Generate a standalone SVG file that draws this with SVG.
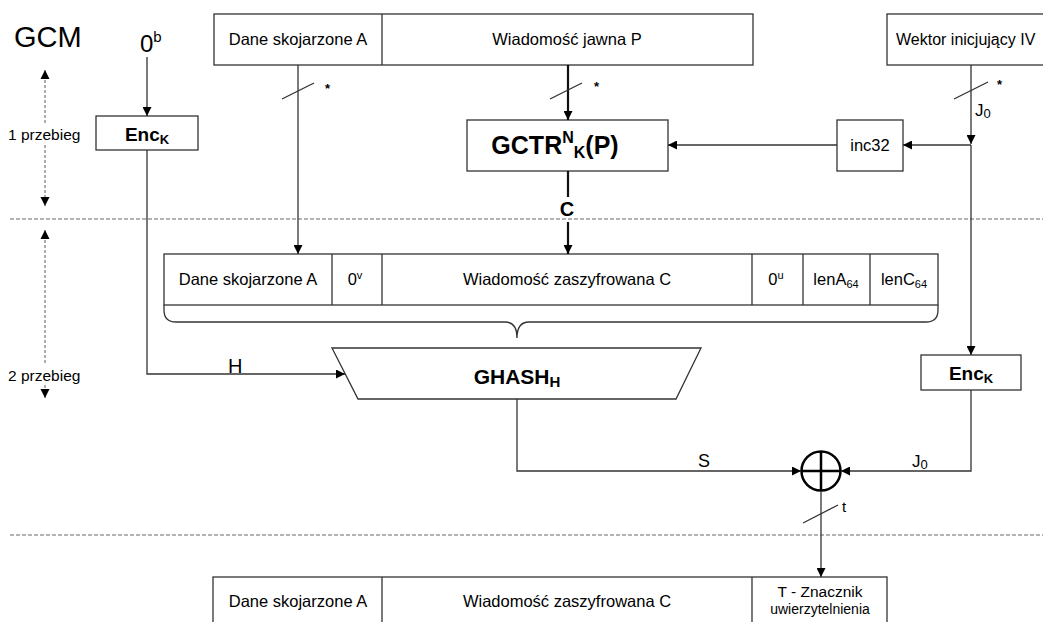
<svg xmlns="http://www.w3.org/2000/svg" width="1043" height="622" viewBox="0 0 1043 622">
<defs>
<marker id="ah" viewBox="0 0 10 10" refX="10" refY="5" markerWidth="9" markerHeight="9" markerUnits="userSpaceOnUse" orient="auto">
<path d="M0,0 L10,5 L0,10 z" fill="#000"/>
</marker>
<marker id="ahs" viewBox="0 0 10 10" refX="10" refY="5" markerWidth="9" markerHeight="11" markerUnits="userSpaceOnUse" orient="auto-start-reverse">
<path d="M0,0 L10,5 L0,10 z" fill="#000"/>
</marker>
</defs>
<style>
.box{fill:#fff;stroke:#333;stroke-width:1.3}
.t{font-family:"Liberation Sans",Arial,sans-serif;fill:#000}
.n{font-size:16.5px}
.b{font-weight:bold}
.ln{fill:none;stroke:#333;stroke-width:1.3}
.thick{fill:none;stroke:#111;stroke-width:2.2}
.dash{fill:none;stroke:#666;stroke-width:1;stroke-dasharray:4 2}
.dot{fill:none;stroke:#777;stroke-width:1.2;stroke-dasharray:3 2}
</style>
<rect width="1043" height="622" fill="#fff"/>

<g id="title">
<text class="t" x="14" y="47" font-size="29">GCM</text>
<text class="t" x="140" y="52" font-size="24">0<tspan font-size="15" dy="-10">b</tspan></text>
</g>

<g id="phases">
<line class="dash" x1="10" y1="219" x2="1043" y2="219"/>
<line class="dash" x1="10" y1="535" x2="1043" y2="535"/>
<line class="dot" x1="45" y1="70" x2="45" y2="206" marker-start="url(#ahs)" marker-end="url(#ahs)"/>
<line class="dot" x1="45" y1="230" x2="45" y2="398" marker-start="url(#ahs)" marker-end="url(#ahs)"/>
<rect x="4" y="124" width="82" height="20" fill="#fff"/>
<text class="t" x="8" y="140" font-size="15.5">1  przebieg</text>
<rect x="4" y="364" width="82" height="20" fill="#fff"/>
<text class="t" x="8" y="381" font-size="15.5">2  przebieg</text>
</g>

<g id="input-top">
<rect class="box" x="214" y="14" width="539" height="51"/>
<line class="ln" x1="382" y1="14" x2="382" y2="65"/>
<text class="t n" x="298" y="45" text-anchor="middle">Dane skojarzone A</text>
<text class="t n" x="567" y="45" text-anchor="middle">Wiadomość jawna P</text>
</g>

<g id="iv">
<rect class="box" x="887" y="14" width="170" height="51"/>
<text class="t" x="896" y="45" font-size="16">Wektor inicjujący IV</text>
</g>

<g id="enc1">
<rect class="box" x="96" y="116" width="102" height="34"/>
<text class="t b" x="147" y="141" font-size="19" text-anchor="middle">Enc<tspan font-size="13" dy="3">K</tspan></text>
</g>

<g id="gctr">
<rect class="box" x="467" y="120" width="201" height="51"/>
<text class="t b" x="555" y="154" font-size="25" text-anchor="middle">GCTR<tspan font-size="16" dy="-11">N</tspan><tspan font-size="16" dy="15">K</tspan><tspan dy="-4">(P)</tspan></text>
</g>

<g id="inc32">
<rect class="box" x="837" y="120" width="66" height="51"/>
<text class="t n" x="870" y="151" text-anchor="middle">inc32</text>
</g>

<g id="concat">
<rect class="box" x="164" y="254" width="774" height="51"/>
<line class="ln" x1="332" y1="254" x2="332" y2="305"/>
<line class="ln" x1="382" y1="254" x2="382" y2="305"/>
<line class="ln" x1="752" y1="254" x2="752" y2="305"/>
<line class="ln" x1="803" y1="254" x2="803" y2="305"/>
<line class="ln" x1="870" y1="254" x2="870" y2="305"/>
<text class="t n" x="248" y="285" text-anchor="middle">Dane skojarzone A</text>
<text class="t n" x="355" y="285" text-anchor="middle">0<tspan font-size="11" dy="-6">v</tspan></text>
<text class="t n" x="567" y="285" text-anchor="middle">Wiadomość zaszyfrowana C</text>
<text class="t n" x="776" y="285" text-anchor="middle">0<tspan font-size="11" dy="-6">u</tspan></text>
<text class="t n" x="836" y="285" text-anchor="middle">lenA<tspan font-size="11" dy="3">64</tspan></text>
<text class="t n" x="904" y="285" text-anchor="middle">lenC<tspan font-size="11" dy="3">64</tspan></text>
<path class="ln" d="M164,305 V310 Q164,322 176,322 H505 Q517,322 517,338 Q517,322 529,322 H926 Q938,322 938,310 V305"/>
</g>

<g id="ghash">
<path class="box" d="M332,348 H701 L676,399 H358 Z"/>
<text class="t b" x="517" y="384" font-size="21" text-anchor="middle">GHASH<tspan font-size="15" dy="3">H</tspan></text>
</g>

<g id="enc2">
<rect class="box" x="921" y="355" width="100" height="35"/>
<text class="t b" x="971" y="380" font-size="19" text-anchor="middle">Enc<tspan font-size="13" dy="3">K</tspan></text>
</g>

<g id="xor">
<circle cx="821" cy="471" r="19.5" fill="#fff" stroke="#000" stroke-width="2.5"/>
<line x1="801.5" y1="471" x2="840.5" y2="471" stroke="#000" stroke-width="2.5"/>
<line x1="821" y1="451.5" x2="821" y2="490.5" stroke="#000" stroke-width="2.5"/>
</g>

<g id="output">
<rect class="box" x="213" y="577" width="674" height="60"/>
<line class="ln" x1="382" y1="577" x2="382" y2="622"/>
<line class="ln" x1="752" y1="577" x2="752" y2="622"/>
<text class="t n" x="298" y="607" text-anchor="middle">Dane skojarzone A</text>
<text class="t n" x="567" y="607" text-anchor="middle">Wiadomość zaszyfrowana C</text>
<text class="t" x="820" y="597" font-size="15.5" text-anchor="middle">T - Znacznik</text>
<text class="t" x="820" y="614" font-size="14" text-anchor="middle">uwierzytelnienia</text>
</g>

<g id="connectors">
<line class="ln" x1="147" y1="57" x2="147" y2="116" marker-end="url(#ah)"/>
<path class="ln" d="M147,150 V374 H345" marker-end="url(#ah)"/>
<line class="ln" x1="298" y1="65" x2="298" y2="254" marker-end="url(#ah)"/>
<line class="ln" x1="282" y1="99" x2="314" y2="83"/>
<text class="t b" x="325" y="93" font-size="13">*</text>
<line class="thick" x1="568" y1="65" x2="568" y2="120" marker-end="url(#ah)"/>
<line class="ln" x1="550" y1="99" x2="582" y2="83"/>
<text class="t b" x="594" y="91" font-size="13">*</text>
<line class="thick" x1="568" y1="171" x2="568" y2="197"/>
<text class="t b" x="567" y="216" font-size="20" text-anchor="middle">C</text>
<line class="thick" x1="568" y1="222" x2="568" y2="254" marker-end="url(#ah)"/>
<line class="ln" x1="971" y1="65" x2="971" y2="144" marker-end="url(#ah)"/>
<line class="ln" x1="954" y1="99" x2="988" y2="82"/>
<text class="t b" x="997" y="89" font-size="13">*</text>
<text class="t" x="975" y="116" font-size="17">J<tspan font-size="13" dy="2">0</tspan></text>
<line class="ln" x1="971" y1="145" x2="903" y2="145" marker-end="url(#ah)"/>
<line class="ln" x1="837" y1="145" x2="668" y2="145" marker-end="url(#ah)"/>
<line class="ln" x1="971" y1="145" x2="971" y2="355" marker-end="url(#ah)"/>
<path class="ln" d="M971,390 V471 H841" marker-end="url(#ah)"/>
<text class="t" x="912" y="467" font-size="17">J<tspan font-size="13" dy="2">0</tspan></text>
<text class="t" x="228" y="373" font-size="20">H</text>
<path class="ln" d="M517,399 V471 H801" marker-end="url(#ah)"/>
<text class="t" x="698" y="467" font-size="18">S</text>
<line class="ln" x1="821" y1="491" x2="821" y2="577" marker-end="url(#ah)"/>
<line class="ln" x1="803" y1="523" x2="838" y2="505"/>
<text class="t" x="842" y="512" font-size="15">t</text>
</g>
</svg>
